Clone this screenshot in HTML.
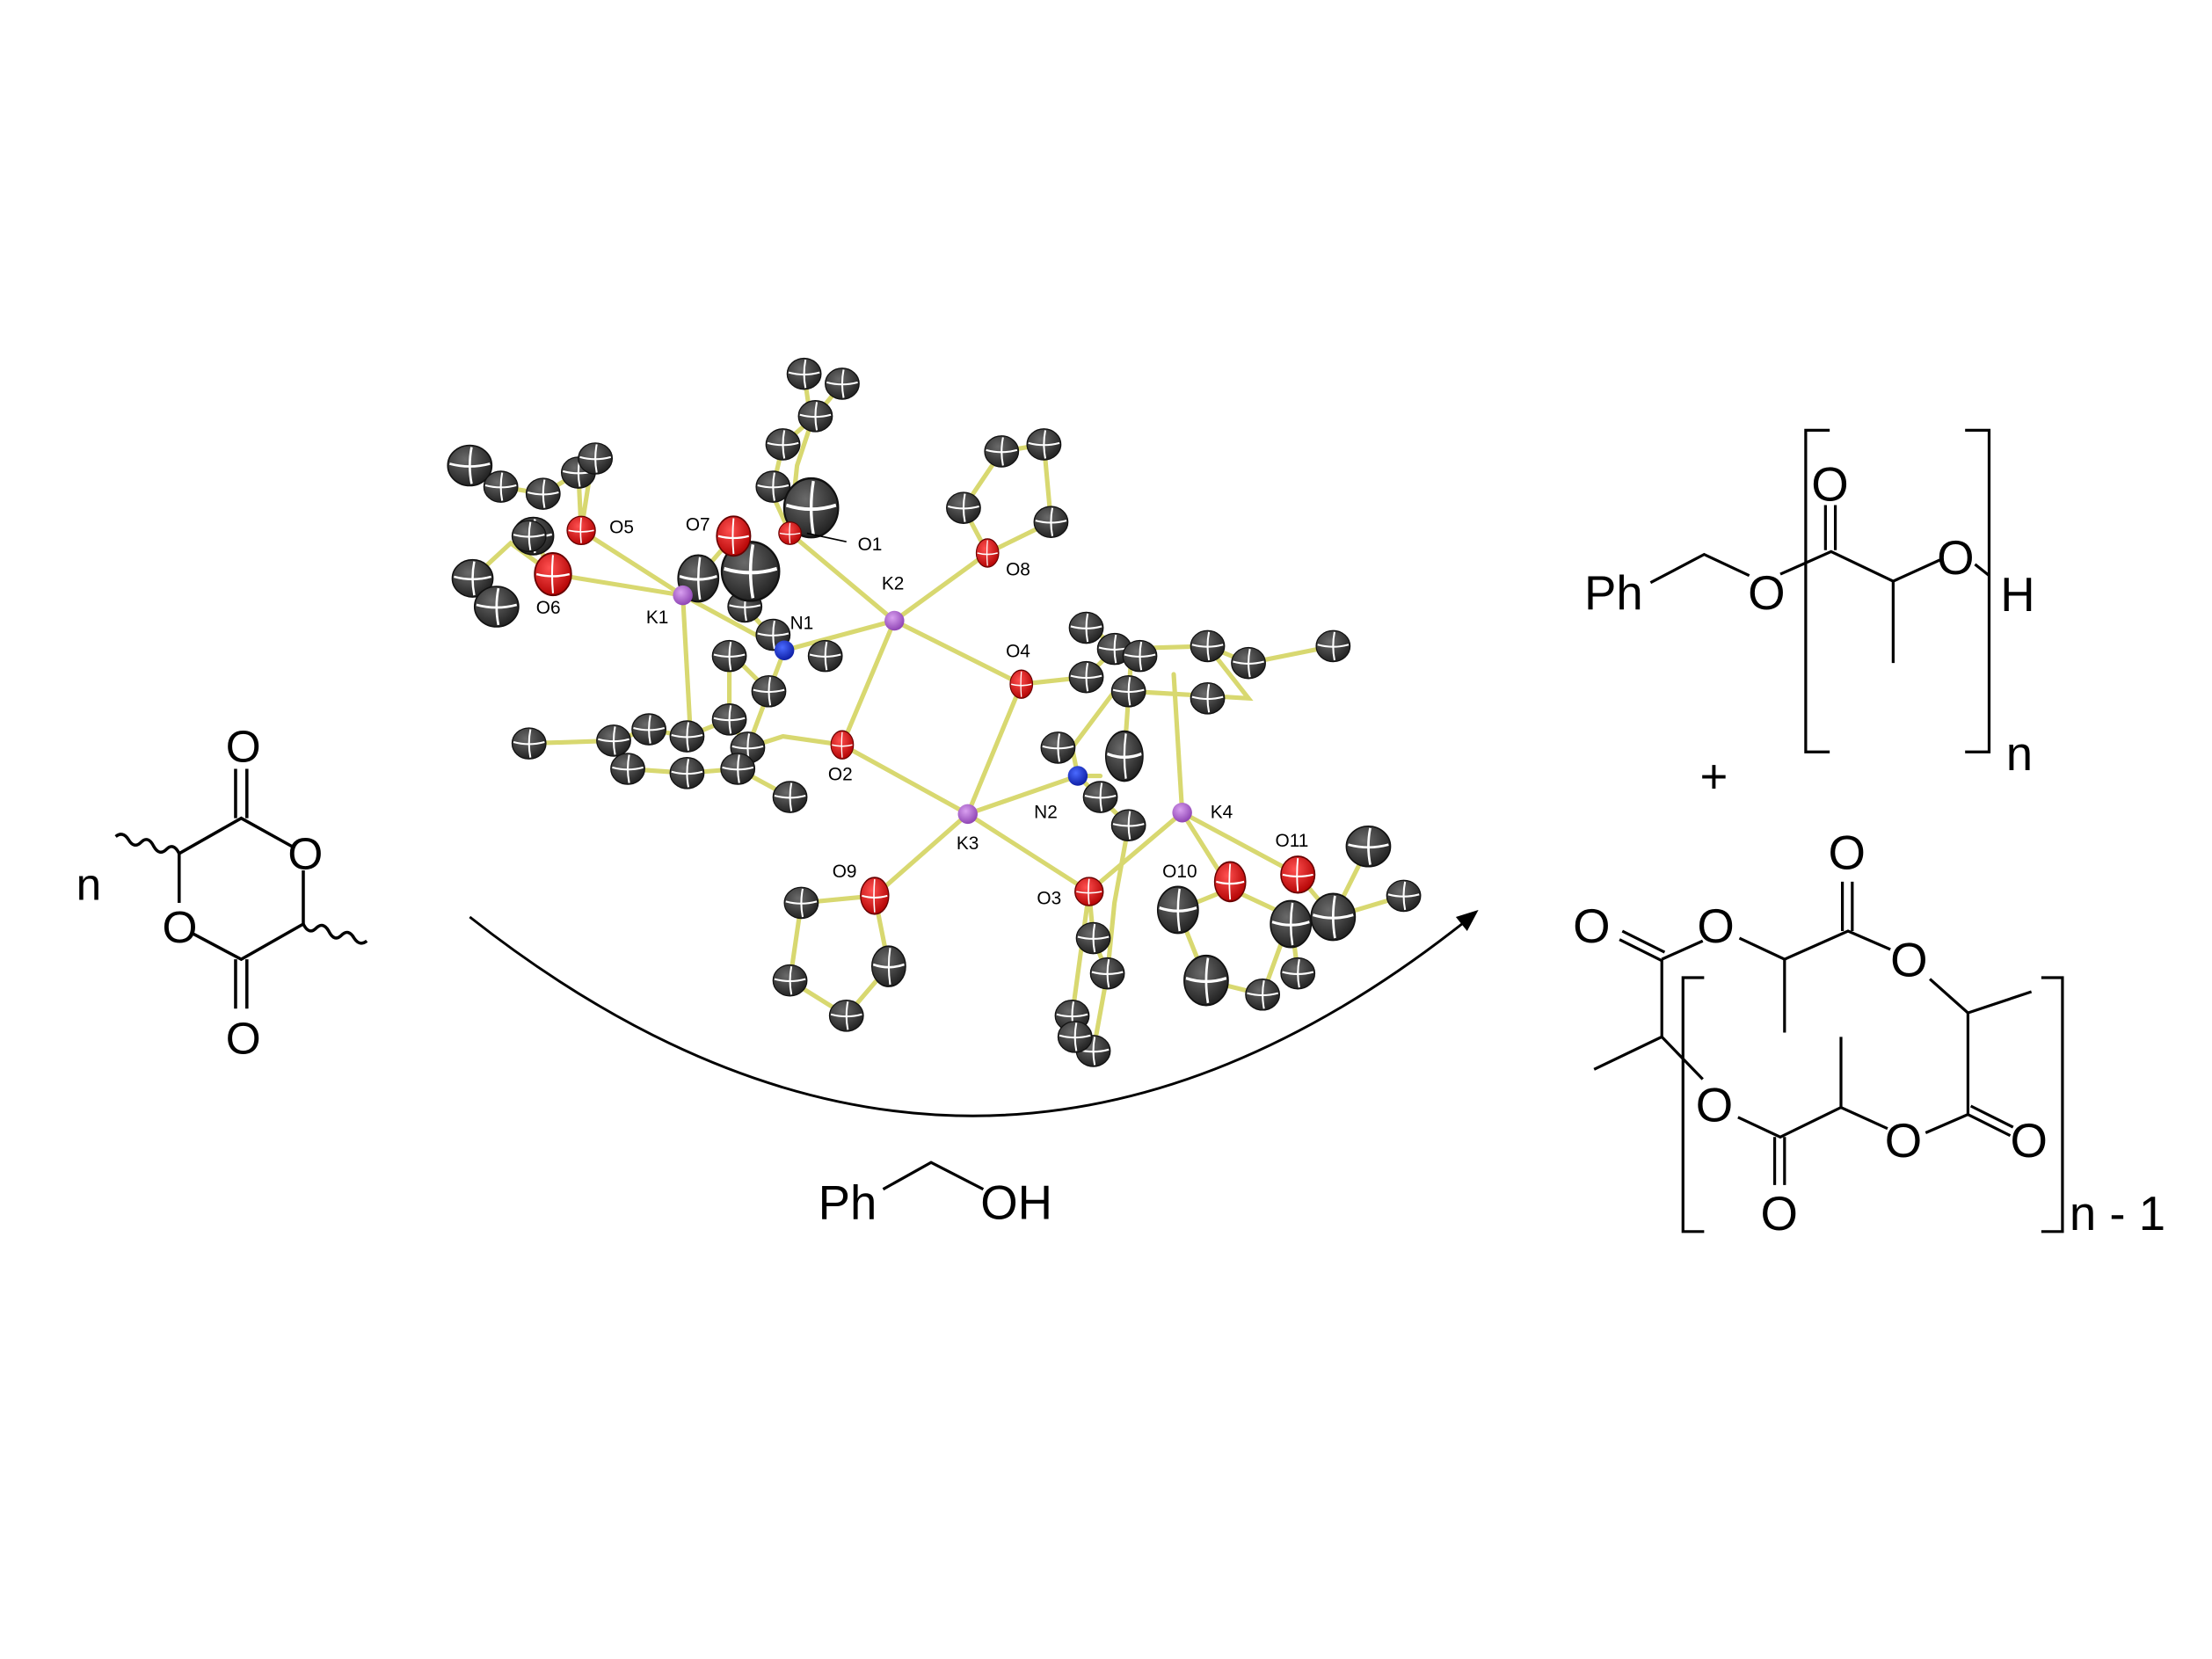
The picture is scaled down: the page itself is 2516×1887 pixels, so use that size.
<!DOCTYPE html>
<html><head><meta charset="utf-8"><style>
html,body{margin:0;padding:0;background:#fff}
svg{display:block}
text{font-family:"Liberation Sans",sans-serif;fill:#000}
</style></head><body>
<svg width="2516" height="1887" viewBox="0 0 1568 1176" preserveAspectRatio="none" xmlns="http://www.w3.org/2000/svg">
<defs>
<radialGradient id="gc" cx="40%" cy="35%" r="70%"><stop offset="0" stop-color="#6a6a6a"/><stop offset="1" stop-color="#1e1e1e"/></radialGradient>
<radialGradient id="go" cx="40%" cy="35%" r="70%"><stop offset="0" stop-color="#ff5050"/><stop offset="1" stop-color="#b00000"/></radialGradient>
<radialGradient id="gk" cx="40%" cy="35%" r="70%"><stop offset="0" stop-color="#d9a0f0"/><stop offset="1" stop-color="#8a3fb0"/></radialGradient>
<radialGradient id="gn" cx="40%" cy="35%" r="70%"><stop offset="0" stop-color="#4a6aff"/><stop offset="1" stop-color="#0a1aa0"/></radialGradient>
<g id="c"><ellipse rx="12" ry="11" fill="url(#gc)" stroke="#111" stroke-width="0.8"/><path d="M-11,-1 Q0,2 11,-1 M1,-10 Q-1,0 1,10" stroke="#fff" stroke-width="1.3" fill="none"/></g>
<g id="o"><ellipse rx="10" ry="10" fill="url(#go)" stroke="#600" stroke-width="0.8"/><path d="M-9,0 Q0,2 9,0 M0,-9 Q-1,0 0,9" stroke="#fff" stroke-width="1" fill="none"/></g>
<g id="k"><ellipse rx="7" ry="7" fill="url(#gk)"/></g>
<g id="n"><ellipse rx="7" ry="7" fill="url(#gn)"/></g>
</defs>

<!-- left lactide -->
<g stroke="#000" stroke-width="2.2" fill="none">
<path d="M127,605 L171,580 L207,600"/>
<path d="M127,605 L127,640"/>
<path d="M215,617 L215,655 L171,680 L137,662"/>
<path d="M167,580 L167,545 M175,580 L175,545"/>
<path d="M167,680 L167,715 M175,680 L175,715"/>
<path d="M127,605 q-4,-8 -9,-3 q-5,5 -9,-2 q-4,-8 -9,-3 q-5,5 -9,-2 q-4,-6 -9,-2"/>
<path d="M215,655 q4,8 9,3 q5,-5 9,2 q4,8 9,3 q5,-5 9,2 q4,6 9,2"/>
</g>
<text x="160" y="540" font-size="32">O</text>
<text x="204" y="616" font-size="32">O</text>
<text x="115" y="668" font-size="32">O</text>
<text x="160" y="747" font-size="32">O</text>
<text x="54" y="638" font-size="32">n</text>

<!-- arrow -->
<path d="M333,650 Q690,931 1040,652" stroke="#000" stroke-width="1.8" fill="none"/>
<path d="M1048,645 L1032,650 L1040,660 Z" fill="#000"/>

<!-- PhCH2OH -->
<text x="580" y="864" font-size="34">Ph</text>
<path d="M626,843 L660,824 L697,843" stroke="#000" stroke-width="2" fill="none"/>
<text x="695" y="864" font-size="34">OH</text>

<!-- right top product -->
<g stroke="#000" stroke-width="2" fill="none">
<path d="M1170,413 L1208,393 L1240,408"/>
<path d="M1262,407 L1298,391 L1342,412 L1375,397"/>
<path d="M1342,412 L1342,470"/>
<path d="M1294,390 L1294,358 M1301,390 L1301,358"/>
<path d="M1400,400 L1410,408"/>
<path d="M1297,305 L1280,305 L1280,533 L1297,533"/>
<path d="M1393,305 L1410,305 L1410,533 L1393,533"/>
</g>
<text x="1123" y="432" font-size="34">Ph</text>
<text x="1239" y="432" font-size="34">O</text>
<text x="1284" y="355" font-size="34">O</text>
<text x="1373" y="407" font-size="34">O</text>
<text x="1418" y="433" font-size="34">H</text>
<text x="1422" y="546" font-size="34">n</text>
<text x="1205" y="562" font-size="34">+</text>

<!-- right bottom cyclic -->
<g stroke="#000" stroke-width="2" fill="none">
<path d="M1148,666 L1178,681 M1150,660 L1180,675"/>
<path d="M1178,680 L1207,667"/>
<path d="M1233,665 L1265,680 L1310,660 L1340,673"/>
<path d="M1265,680 L1265,732"/>
<path d="M1306,660 L1306,625 M1313,660 L1313,625"/>
<path d="M1368,694 L1395,718 L1440,703"/>
<path d="M1395,718 L1395,790 L1365,803"/>
<path d="M1395,790 L1425,805 M1397,784 L1427,799"/>
<path d="M1338,800 L1305,785 L1262,806 L1232,792"/>
<path d="M1305,785 L1305,735"/>
<path d="M1258,806 L1258,840 M1265,806 L1265,840"/>
<path d="M1178,680 L1178,735 L1130,758"/>
<path d="M1178,735 L1207,765"/>
<path d="M1208,693 L1193,693 L1193,873 L1208,873"/>
<path d="M1447,693 L1462,693 L1462,873 L1447,873"/>
</g>
<text x="1115" y="668" font-size="34">O</text>
<text x="1203" y="668" font-size="34">O</text>
<text x="1296" y="616" font-size="34">O</text>
<text x="1340" y="692" font-size="34">O</text>
<text x="1202" y="795" font-size="34">O</text>
<text x="1336" y="820" font-size="34">O</text>
<text x="1425" y="820" font-size="34">O</text>
<text x="1248" y="872" font-size="34">O</text>
<text x="1467" y="872" font-size="34">n - 1</text>

<!-- crystal structure bonds -->
<g stroke="#d8d870" stroke-width="3.2" fill="none" stroke-linecap="round">
<path d="M484,422 L412,376 M484,422 L392,407 M484,422 L520,380 M484,422 L490,530 M484,422 L556,461"/>
<path d="M634,440 L560,378 M634,440 L700,392 M634,440 L556,461 M634,440 L724,485 M634,440 L597,528"/>
<path d="M686,577 L597,528 M686,577 L724,485 M686,577 L764,550 M686,577 L620,635 M686,577 L772,632"/>
<path d="M838,576 L772,632 M838,576 L872,630 M838,576 L920,620 M838,576 L832,478 M764,550 L800,585"/>
<path d="M375,527 L435,525 L460,517 L487,522 L517,510 L530,530 L555,522 M435,525 L445,545 L487,548 L523,545 L530,530 M555,522 L597,528 M523,545 L560,565 M517,510 L517,465 M530,530 L545,490 L556,461 L548,450 M545,490 L520,465 M556,461 L528,430"/>
<path d="M724,485 L770,480 L790,460 L770,440 M790,460 L856,458 L885,470 L945,458 M800,490 L885,495 L856,458 M790,490 L760,530 L764,550 M802,464 L797,536 M764,550 L780,550"/>
<path d="M560,378 L565,330 L575,300 L570,265 M548,345 L555,315 L578,295 L597,272 M560,378 L545,345"/>
<path d="M700,392 L683,360 L710,320 L740,315 L745,370 L700,392"/>
<path d="M412,376 L410,335 L385,350 L355,345 L333,330 M412,376 L420,325 M392,407 L362,385 L335,410 L350,430 M392,407 L378,380 M520,380 L532,400"/>
<path d="M620,635 L568,640 L560,695 L600,720 L630,685 L620,635"/>
<path d="M772,632 L775,665 L785,690 L775,745 L760,720 L762,730 M800,585 L790,640 L785,690 M772,632 L760,720"/>
<path d="M872,630 L835,645 L855,695 L895,705 L915,650 L920,690 M920,620 L945,650 L970,600 M945,650 L995,635 M872,630 L915,650"/>
</g>

<!-- carbons -->
<use href="#c" x="570" y="265"/><use href="#c" x="597" y="272"/><use href="#c" x="578" y="295"/><use href="#c" x="555" y="315"/><use href="#c" x="548" y="345"/>
<use href="#c" x="710" y="320"/><use href="#c" x="740" y="315"/><use href="#c" x="745" y="370"/><use href="#c" x="683" y="360"/>
<use href="#c" x="333" y="330" transform="translate(333,330) scale(1.3) translate(-333,-330)"/>
<use href="#c" x="355" y="345"/><use href="#c" x="385" y="350"/><use href="#c" x="410" y="335"/><use href="#c" x="422" y="325"/><use href="#c" x="378" y="380" transform="translate(378,380) scale(1.2) translate(-378,-380)"/><use href="#c" x="335" y="410" transform="translate(335,410) scale(1.2) translate(-335,-410)"/><use href="#c" x="352" y="430" transform="translate(352,430) scale(1.3) translate(-352,-430)"/>
<use href="#c" x="375" y="527"/><use href="#c" x="435" y="525"/><use href="#c" x="460" y="517"/><use href="#c" x="487" y="522"/><use href="#c" x="517" y="510"/><use href="#c" x="530" y="530"/><use href="#c" x="445" y="545"/><use href="#c" x="487" y="548"/><use href="#c" x="523" y="545"/><use href="#c" x="560" y="565"/><use href="#c" x="517" y="465"/><use href="#c" x="545" y="490"/><use href="#c" x="548" y="450"/><use href="#c" x="528" y="430"/><use href="#c" x="585" y="465"/>
<use href="#c" x="770" y="445"/><use href="#c" x="790" y="460"/><use href="#c" x="770" y="480"/><use href="#c" x="800" y="490"/><use href="#c" x="808" y="465"/><use href="#c" x="856" y="458"/><use href="#c" x="885" y="470"/><use href="#c" x="945" y="458"/><use href="#c" x="856" y="495"/><use href="#c" x="797" y="536" transform="translate(797,536) scale(1.1,1.6) translate(-797,-536)"/><use href="#c" x="750" y="530"/><use href="#c" x="800" y="585"/><use href="#c" x="780" y="565"/>
<use href="#c" x="568" y="640"/><use href="#c" x="560" y="695"/><use href="#c" x="600" y="720"/><use href="#c" x="630" y="685" transform="translate(630,685) scale(1,1.3) translate(-630,-685)"/>
<use href="#c" x="775" y="665"/><use href="#c" x="785" y="690"/><use href="#c" x="760" y="720"/><use href="#c" x="775" y="745"/><use href="#c" x="762" y="735"/>
<use href="#c" x="835" y="645" transform="translate(835,645) scale(1.2,1.5) translate(-835,-645)"/><use href="#c" x="855" y="695" transform="translate(855,695) scale(1.3,1.6) translate(-855,-695)"/><use href="#c" x="895" y="705"/><use href="#c" x="915" y="655" transform="translate(915,655) scale(1.2,1.5) translate(-915,-655)"/><use href="#c" x="945" y="650" transform="translate(945,650) scale(1.3,1.5) translate(-945,-650)"/><use href="#c" x="970" y="600" transform="translate(970,600) scale(1.3) translate(-970,-600)"/><use href="#c" x="995" y="635"/><use href="#c" x="920" y="690"/>
<use href="#c" x="575" y="360" transform="translate(575,360) scale(1.6,1.9) translate(-575,-360)"/>
<use href="#c" x="532" y="405" transform="translate(532,405) scale(1.7,1.9) translate(-532,-405)"/>
<use href="#c" x="495" y="410" transform="translate(495,410) scale(1.2,1.5) translate(-495,-410)"/>
<use href="#c" x="375" y="380"/>

<!-- heteroatoms -->
<use href="#o" x="412" y="376"/><use href="#o" x="392" y="407" transform="translate(392,407) scale(1.3,1.5) translate(-392,-407)"/><use href="#o" x="520" y="380" transform="translate(520,380) scale(1.2,1.4) translate(-520,-380)"/><use href="#o" x="560" y="378" transform="translate(560,378) scale(0.8) translate(-560,-378)"/>
<use href="#o" x="700" y="392" transform="translate(700,392) scale(0.8,1) translate(-700,-392)"/><use href="#o" x="724" y="485" transform="translate(724,485) scale(0.8,1) translate(-724,-485)"/><use href="#o" x="597" y="528" transform="translate(597,528) scale(0.8,1) translate(-597,-528)"/>
<use href="#o" x="620" y="635" transform="translate(620,635) scale(1,1.3) translate(-620,-635)"/><use href="#o" x="772" y="632"/><use href="#o" x="872" y="625" transform="translate(872,625) scale(1.1,1.4) translate(-872,-625)"/><use href="#o" x="920" y="620" transform="translate(920,620) scale(1.2,1.3) translate(-920,-620)"/>
<use href="#k" x="484" y="422"/><use href="#k" x="634" y="440"/><use href="#k" x="686" y="577"/><use href="#k" x="838" y="576"/>
<use href="#n" x="556" y="461"/><use href="#n" x="764" y="550"/>
<path d="M600,384 L572,378" stroke="#000" stroke-width="1"/>

<g font-size="13">
<text x="432" y="378">O5</text><text x="486" y="376">O7</text><text x="608" y="390">O1</text>
<text x="380" y="435">O6</text><text x="458" y="442">K1</text><text x="625" y="418">K2</text>
<text x="713" y="408">O8</text><text x="560" y="446">N1</text><text x="713" y="466">O4</text>
<text x="587" y="553">O2</text><text x="733" y="580">N2</text><text x="858" y="580">K4</text>
<text x="678" y="602">K3</text><text x="590" y="622">O9</text><text x="904" y="600">O11</text>
<text x="824" y="622">O10</text><text x="735" y="641">O3</text>
</g>
</svg>
</body></html>
